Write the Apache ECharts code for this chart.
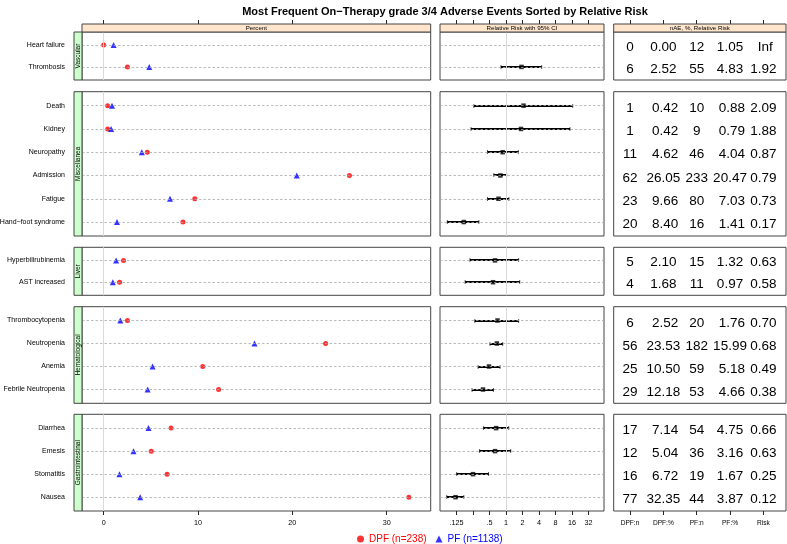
<!DOCTYPE html>
<html>
<head>
<meta charset="utf-8">
<title>Adverse Events Sorted by Relative Risk</title>
<script src="https://cdn.jsdelivr.net/npm/echarts@6/dist/echarts.min.js"></script>
<style>
  html, body { margin: 0; padding: 0; background: #fff; }
  #chart { width: 787px; height: 544px; }
</style>
</head>
<body>
<div id="chart"></div>
<script>
// data
var groups = ['Vascular', 'Miscellanea', 'Liver', 'Hematological', 'Gastrointestinal'];
var groupSizes = [2, 6, 2, 4, 4];
var events = ['Heart failure', 'Thrombosis',
  'Death', 'Kidney', 'Neuropathy', 'Admission', 'Fatigue', 'Hand\u2212foot syndrome',
  'Hyperbilirubinemia', 'AST increased',
  'Thrombocytopenia', 'Neutropenia', 'Anemia', 'Febrile Neutropenia',
  'Diarrhea', 'Emesis', 'Stomatitis', 'Nausea'];
var dpfN   = [0, 6, 1, 1, 11, 62, 23, 20, 5, 4, 6, 56, 25, 29, 17, 12, 16, 77];
var dpfPct = [0.00, 2.52, 0.42, 0.42, 4.62, 26.05, 9.66, 8.40, 2.10, 1.68, 2.52, 23.53, 10.50, 12.18, 7.14, 5.04, 6.72, 32.35];
var pfN    = [12, 55, 10, 9, 46, 233, 80, 16, 15, 11, 20, 182, 59, 53, 54, 36, 19, 44];
var pfPct  = [1.05, 4.83, 0.88, 0.79, 4.04, 20.47, 7.03, 1.41, 1.32, 0.97, 1.76, 15.99, 5.18, 4.66, 4.75, 3.16, 1.67, 3.87];
var risk   = [Infinity, 1.92, 2.09, 1.88, 0.87, 0.79, 0.73, 0.17, 0.63, 0.58, 0.70, 0.68, 0.49, 0.38, 0.66, 0.63, 0.25, 0.12];
var ciLow  = [null, 0.81, 0.26, 0.23, 0.46, 0.60, 0.46, 0.085, 0.22, 0.18, 0.27, 0.51, 0.31, 0.24, 0.39, 0.33, 0.126, 0.083];
var ciHigh = [null, 4.48, 16.5, 14.7, 1.68, 1.03, 1.13, 0.32, 1.70, 1.78, 1.70, 0.87, 0.78, 0.59, 1.12, 1.22, 0.48, 0.17];
var percentTicks = [0, 10, 20, 30];
var rrTicks = [0.125, 0.25, 0.5, 1, 2, 4, 8, 16, 32];
var rrTickLabels = ['.125', '', '.5', '1', '2', '4', '8', '16', '32'];
var tableColumns = ['DPF:n', 'DPF:%', 'PF:n', 'PF:%', 'Risk'];
var headers = ['Percent', 'Relative Risk with 95% CI', 'nAE, %, Relative Risk'];

// layout (px)
var panelTop = [32, 91.7, 247.3, 306.7, 414.3];
var panelHeight = [48, 144.3, 48, 96.6, 96.7];
var colLeft = [82, 440, 613.7];
var colWidth = [348.7, 164, 172.3];
var xMin = [-2.3, -4, 0.51];
var xMax = [34.67, 5.94, 5.68];

var FONT = '"Liberation Sans", Arial, sans-serif';
var BORDER = '#444';

function log2(v) { return Math.log(v) / Math.LN2; }

function colStrings(vals, digits, pad) {
  var s = vals.map(function (v) {
    if (v === Infinity) return 'Inf';
    return digits ? v.toFixed(digits) : String(v);
  });
  if (pad) {
    var m = 0;
    s.forEach(function (x) { m = Math.max(m, x.length); });
    s = s.map(function (x) { while (x.length < m) x = ' ' + x; return x; });
  }
  return s;
}

var grids = [], xAxes = [], yAxes = [], series = [], graphics = [];
var start = 0;

for (var g = 0; g < groups.length; g++) {
  var n = groupSizes[g];
  var rows = [];
  for (var r = 1; r <= n; r++) rows.push(r);
  var idx = rows.map(function (r) { return start + r - 1; });
  var names = idx.map(function (i) { return events[i]; });

  for (var c = 0; c < 3; c++) {
    var gi = g * 3 + c;
    grids.push({
      left: colLeft[c], top: panelTop[g], width: colWidth[c], height: panelHeight[g],
      outerBoundsMode: 'none', containLabel: false,
      show: true, borderColor: BORDER, borderWidth: 1, backgroundColor: '#fff'
    });

    var tickVals = c === 0 ? percentTicks : (c === 1 ? rrTicks.map(log2) : [1, 2, 3, 4, 5]);
    var isTop = g === 0, isBottom = g === groups.length - 1;
    xAxes.push({
      type: 'value', gridIndex: gi, min: xMin[c], max: xMax[c],
      position: isTop ? 'top' : 'bottom', offset: isTop ? 8 : 0,
      axisLine: { show: false, onZero: false },
      splitLine: { show: false },
      axisTick: { show: isTop || isBottom, length: 4, customValues: tickVals, lineStyle: { color: '#222' } },
      axisLabel: {
        show: isBottom, customValues: tickVals, margin: 9,
        fontSize: c === 2 ? 6.6 : 7.2, color: '#000', fontFamily: FONT,
        formatter: (function (cc) {
          return function (v) {
            if (cc === 0) return String(v);
            if (cc === 1) {
              var k = rrTicks.map(log2).findIndex(function (t) { return Math.abs(t - v) < 1e-6; });
              return k >= 0 ? rrTickLabels[k] : '';
            }
            return tableColumns[Math.round(v) - 1] || '';
          };
        })(c)
      }
    });

    yAxes.push({
      type: 'value', gridIndex: gi, inverse: true, min: 0.4, max: n + 0.6,
      axisLine: { show: false, onZero: false }, axisTick: { show: false }, splitLine: { show: false },
      axisLabel: {
        show: c === 0, customValues: rows, margin: 17, fontSize: 7, color: '#000', fontFamily: FONT,
        formatter: (function (nm) { return function (v) { return nm[Math.round(v) - 1] || ''; }; })(names)
      }
    });

    if (c < 2) {
      // dashed row lines + reference line
      series.push({
        type: 'scatter', xAxisIndex: gi, yAxisIndex: gi, data: [], z: 1, silent: true,
        markLine: {
          silent: true, symbol: ['none', 'none'], label: { show: false }, animation: false,
          data: rows.map(function (r) {
            return { yAxis: r, lineStyle: { color: '#aaa', type: [2.5, 2], width: 0.8 } };
          }).concat([{ xAxis: 0, lineStyle: { color: '#d9d9d9', type: 'solid', width: 1 } }])
        }
      });
    }

    if (c === 0) {
      series.push({
        name: 'DPF (n=238)', type: 'scatter', xAxisIndex: gi, yAxisIndex: gi, z: 3,
        symbol: 'circle', symbolSize: 5, itemStyle: { color: '#ff0000' },
        data: idx.map(function (i, k) { return [dpfPct[i], k + 1]; })
      });
      series.push({
        name: 'PF (n=1138)', type: 'scatter', xAxisIndex: gi, yAxisIndex: gi, z: 3,
        symbol: 'triangle', symbolSize: 6, itemStyle: { color: '#0000ff' },
        data: idx.map(function (i, k) { return [pfPct[i], k + 1]; })
      });
    } else if (c === 1) {
      var ciData = [], ptData = [];
      idx.forEach(function (i, k) {
        if (ciLow[i] != null) ciData.push([log2(ciLow[i]), log2(ciHigh[i]), k + 1]);
        if (isFinite(risk[i])) ptData.push([log2(risk[i]), k + 1]);
      });
      series.push({
        type: 'custom', xAxisIndex: gi, yAxisIndex: gi, z: 3, silent: true,
        encode: { x: [0, 1], y: 2 },
        data: ciData,
        renderItem: function (params, api) {
          var y = Math.round(api.coord([0, api.value(2)])[1]);
          var x1 = api.coord([api.value(0), api.value(2)])[0];
          var x2 = api.coord([api.value(1), api.value(2)])[0];
          var h = 1.8;
          return {
            type: 'group', children: [
              { type: 'rect', shape: { x: x1, y: y - 1, width: x2 - x1, height: 2 }, style: { fill: '#000' } },
              { type: 'line', shape: { x1: x1, y1: y - h, x2: x1, y2: y + h }, style: { stroke: '#000', lineWidth: 0.8 } },
              { type: 'line', shape: { x1: x2, y1: y - h, x2: x2, y2: y + h }, style: { stroke: '#000', lineWidth: 0.8 } }
            ]
          };
        }
      });
      series.push({
        type: 'scatter', xAxisIndex: gi, yAxisIndex: gi, z: 4, silent: true,
        symbol: 'rect', symbolSize: 4.5, itemStyle: { color: '#000' },
        data: ptData
      });
    } else {
      var cols = [
        colStrings(idx.map(function (i) { return dpfN[i]; }), 0, false),
        colStrings(idx.map(function (i) { return dpfPct[i]; }), 2, true),
        colStrings(idx.map(function (i) { return pfN[i]; }), 0, false),
        colStrings(idx.map(function (i) { return pfPct[i]; }), 2, true),
        colStrings(idx.map(function (i) { return risk[i]; }), 2, true)
      ];
      var cells = [], texts = [];
      for (var j = 0; j < 5; j++) {
        for (var k = 0; k < n; k++) {
          cells.push([j + 1, k + 1]);
          texts.push(cols[j][k]);
        }
      }
      series.push({
        type: 'custom', xAxisIndex: gi, yAxisIndex: gi, z: 3, silent: true,
        data: cells,
        renderItem: (function (tx) {
          return function (params, api) {
            var p = api.coord([api.value(0), api.value(1)]);
            return {
              type: 'text', x: p[0], y: p[1] + 2.3,
              style: {
                text: tx[params.dataIndex], textAlign: 'center', textVerticalAlign: 'middle',
                fontSize: 13.5, fontFamily: FONT, fill: '#000'
              }
            };
          };
        })(texts)
      });
    }
  }

  // group strip on the left
  graphics.push({
    type: 'rect', shape: { x: 74, y: panelTop[g], width: 8, height: panelHeight[g] },
    style: { fill: '#ccffcc', stroke: BORDER, lineWidth: 1 }, z: 10
  });
  graphics.push({
    type: 'text', x: 78.3, y: panelTop[g] + panelHeight[g] / 2, rotation: Math.PI / 2,
    style: { text: groups[g], textAlign: 'center', textVerticalAlign: 'middle', fontSize: 6.5, fontFamily: FONT, fill: '#000' },
    z: 11
  });
  start += n;
}

// header strips
for (var h = 0; h < 3; h++) {
  graphics.push({
    type: 'rect', shape: { x: colLeft[h], y: 24, width: colWidth[h], height: 8 },
    style: { fill: '#ffe5cc', stroke: BORDER, lineWidth: 1 }, z: 10
  });
  graphics.push({
    type: 'text', x: colLeft[h] + colWidth[h] / 2, y: 28.3,
    style: { text: headers[h], textAlign: 'center', textVerticalAlign: 'middle', fontSize: 6.2, fontFamily: FONT, fill: '#000' },
    z: 11
  });
}

var chart = echarts.init(document.getElementById('chart'), null, { renderer: 'canvas' });
chart.setOption({
  animation: false,
  backgroundColor: '#fff',
  textStyle: { fontFamily: FONT },
  title: {
    text: 'Most Frequent On\u2212Therapy grade 3/4 Adverse Events Sorted by Relative Risk',
    left: 440, top: 1, textAlign: 'center',
    textStyle: { fontSize: 11, fontWeight: 'bold', color: '#000', fontFamily: FONT }
  },
  legend: {
    left: 352, top: 529, itemWidth: 7, itemHeight: 7, itemGap: 9, selectedMode: false,
    textStyle: { fontSize: 10, fontFamily: FONT },
    data: [
      { name: 'DPF (n=238)', icon: 'circle', textStyle: { color: '#ff0000' } },
      { name: 'PF (n=1138)', icon: 'triangle', textStyle: { color: '#0000ff' } }
    ]
  },
  grid: grids,
  xAxis: xAxes,
  yAxis: yAxes,
  series: series,
  graphic: graphics
});
</script>
</body>
</html>
